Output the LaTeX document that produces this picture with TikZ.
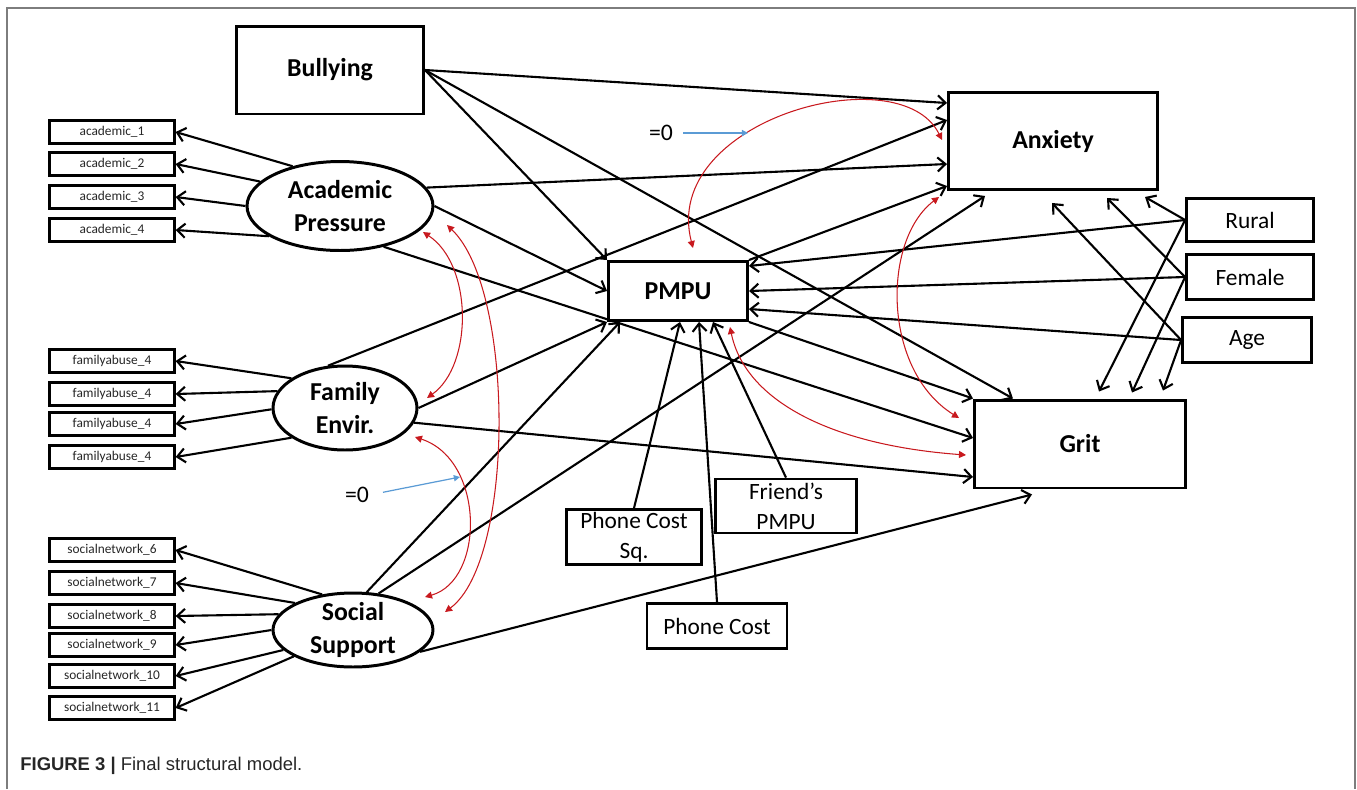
\documentclass[tikz,border=0pt]{standalone}
\usepackage{fontspec}
\setmainfont{Carlito}
\newfontfamily\capfont{Liberation Sans}
\usetikzlibrary{arrows.meta,shapes.geometric}
\definecolor{covred}{RGB}{200,25,30}
\definecolor{fixblue}{RGB}{91,155,213}
\definecolor{framegray}{RGB}{125,125,125}
\tikzset{
  latent/.style={ellipse, draw, line width=1.7pt, inner sep=-2pt, align=center,
    font=\fontsize{14.7}{18.7}\selectfont\bfseries},
  observed/.style={draw, line width=1.7pt, inner sep=0pt,
    font=\fontsize{14.7}{18}\selectfont\bfseries},
  covariate/.style={draw, line width=1.6pt, inner sep=0pt, align=center,
    font=\fontsize{13.3}{17}\selectfont},
  indicator/.style={draw, line width=1.3pt, inner sep=0pt, minimum width=2.5cm,
    minimum height=0.46cm, text=black!85, font=\fontsize{7.6}{9}\selectfont},
  effect/.style={-{Straight Barb[length=4.5pt,width=8pt]}, line width=1.2pt},
  covar/.style={{Triangle[length=4pt,width=4pt]}-{Triangle[length=4pt,width=4pt]},
    covred, line width=0.6pt},
  fixzero/.style={-{Triangle[length=3.5pt,width=3.5pt]}, fixblue, line width=0.7pt},
  zerolabel/.style={inner sep=0pt, font=\fontsize{13.5}{16}\selectfont},
}

\begin{document}
\begin{tikzpicture}[x=0.02cm, y=-0.02cm]
        \useasboundingbox (0,0) rectangle (1357,789);

        % Frame and caption
        \draw[framegray, line width=1.1pt] (7,789) -- (7,8) -- (1355,8) -- (1355,789);
        \node[anchor=west, inner sep=0pt, text=black!85, font=\capfont\fontsize{10.5}{12}\selectfont] (caption) at (20,766) {\textbf{FIGURE 3 |} Final structural model.};

        % Define latent factors by coordinates
        \node[latent, minimum width=3.72cm, minimum height=1.78cm] (acad) at (340,206) {Academic\\Pressure};
        \node[latent, minimum width=2.88cm, minimum height=1.68cm] (fam) at (345,408) {Family\\Envir.};
        \node[latent, minimum width=3.2cm, minimum height=1.48cm] (soc) at (353,630) {Social\\Support};

        % Define observed variables
        \node[observed, minimum width=3.74cm, minimum height=1.76cm] (bully) at (330,70) {Bullying};
        \node[observed, minimum width=4.18cm, minimum height=1.94cm] (anx) at (1053,141) {Anxiety};
        \node[observed, minimum width=4.22cm, minimum height=1.76cm] (grit) at (1080,444) {Grit};
        \node[observed, minimum width=2.78cm, minimum height=1.18cm] (pmpu) at (678,291) {PMPU};
        \node[covariate, minimum width=2.54cm, minimum height=0.86cm] (rural) at (1250,220) {Rural};
        \node[covariate, minimum width=2.54cm, minimum height=0.9cm] (female) at (1250,277) {Female};
        \node[covariate, minimum width=2.58cm, minimum height=0.9cm] (age) at (1247,340) {Age};
        \node[covariate, minimum width=2.7cm, minimum height=1.1cm] (costsq) at (634,537) {Phone Cost\\Sq.};
        \node[covariate, minimum width=2.82cm, minimum height=1.08cm] (friend) at (786,506) {Friend’s\\PMPU};
        \node[covariate, minimum width=2.8cm, minimum height=0.9cm] (cost) at (717,626) {Phone Cost};

        % Define indicators
        \node[indicator] (a1) at (112,132) {academic\_1};
        \node[indicator] (a2) at (112,164) {academic\_2};
        \node[indicator] (a3) at (112,197) {academic\_3};
        \node[indicator] (a4) at (112,230) {academic\_4};
        \node[indicator] (f1) at (112,361) {familyabuse\_4};
        \node[indicator] (f2) at (112,394) {familyabuse\_4};
        \node[indicator] (f3) at (112,424) {familyabuse\_4};
        \node[indicator] (f4) at (112,457) {familyabuse\_4};
        \node[indicator] (s6) at (112,550) {socialnetwork\_6};
        \node[indicator] (s7) at (112,583) {socialnetwork\_7};
        \node[indicator] (s8) at (112,616) {socialnetwork\_8};
        \node[indicator] (s9) at (112,645) {socialnetwork\_9};
        \node[indicator] (s10) at (112,676) {socialnetwork\_10};
        \node[indicator] (s11) at (112,708) {socialnetwork\_11};

        % Fixed-to-zero markers
        \node[zerolabel] (zeroA) at (661,133) {=0};
        \node[zerolabel] (zeroB) at (357,495) {=0};
        \coordinate (fixA) at (748,133);
        \coordinate (fixB) at (460,477);

        % Draw loadings
        \draw[effect] (acad.140) -- (a1.east);
        \draw[effect] (acad.163) -- (a2.east);
        \draw[effect] (acad.180) -- (a3.east);
        \draw[effect] (acad.203) -- (a4.east);
        \draw[effect] (fam.151) -- (f1.east);
        \draw[effect] (fam.166) -- (f2.east);
        \draw[effect] (fam.181) -- (f3.east);
        \draw[effect] (fam.209) -- (f4.east);
        \draw[effect] (soc.131) -- (s6.east);
        \draw[effect] (soc.155) -- (s7.east);
        \draw[effect] (soc.168) -- (s8.east);
        \draw[effect] (soc.180) -- (s9.east);
        \draw[effect] (soc.196) -- (s10.east);
        \draw[effect] (soc.204) -- (s11.east);

        % Draw structural paths
        \draw[effect] (bully.east) -- ([shift={(0,-38)}]anx.west);
        \draw[effect] (bully.east) -- (pmpu.north west);
        \draw[effect] (bully.east) -- ([shift={(-67,0)}]grit.north);
        \draw[effect] (acad.12) -- ([shift={(0,23)}]anx.west);
        \draw[effect] (acad.east) -- (pmpu.west);
        \draw[effect] (acad.-43) -- ([shift={(0,-6)}]grit.west);
        \draw[effect] (fam.112) -- ([shift={(0,-21)}]anx.west);
        \draw[effect] (fam.east) -- (pmpu.south west);
        \draw[effect] (fam.-12) -- ([shift={(0,33)}]grit.west);
        \draw[effect] (soc.70) -- ([shift={(13,0)}]pmpu.south west);
        \draw[effect] (soc.55) -- ([shift={(-68,5)}]anx.south);
        \draw[effect] (soc.-18) -- ([shift={(-48,5)}]grit.south);
        \draw[effect] (pmpu.north east) -- ([shift={(0,45)}]anx.west);
        \draw[effect] (pmpu.south east) -- (grit.north west);
        \draw[effect] (costsq.north) -- ([shift={(2,0)}]pmpu.south);
        \draw[effect] (cost.north) -- ([shift={(21,0)}]pmpu.south);
        \draw[effect] (friend.north) -- ([shift={(35,0)}]pmpu.south);
        \draw[effect] (rural.west) -- ([shift={(0,-25)}]pmpu.east);
        \draw[effect] (female.west) -- (pmpu.east);
        \draw[effect] (age.west) -- ([shift={(0,18)}]pmpu.east);
        \draw[effect] (rural.west) -- ([shift={(92,6)}]anx.south);
        \draw[effect] (female.west) -- ([shift={(54,7)}]anx.south);
        \draw[effect] (age.west) -- ([shift={(-1,12)}]anx.south);
        \draw[effect] (rural.west) -- ([shift={(19,-7)}]grit.north);
        \draw[effect] (female.west) -- ([shift={(52,-6)}]grit.north);
        \draw[effect] (age.west) -- ([shift={(83,-8)}]grit.north);

        % Draw covariances
        \draw[covar] ([shift={(83,26)}]acad.center) .. controls (473,265) and (473,365) .. ([shift={(82,-10)}]fam.center);
        \draw[covar] ([shift={(107,19)}]acad.center) .. controls (515,290) and (515,560) .. ([shift={(92,-18)}]soc.center);
        \draw[covar] ([shift={(70,29)}]fam.center) .. controls (485,460) and (485,580) .. ([shift={(72,-33)}]soc.center);
        \draw[covar] ([shift={(15,-12)}]pmpu.north) .. controls (660,120) and (900,55) .. ([shift={(-5,-1)}]anx.west);
        \draw[covar] ([shift={(-8,6)}]anx.south west) .. controls (882,240) and (882,370) .. ([shift={(-14,-26)}]grit.west);
        \draw[covar] ([shift={(52,5)}]pmpu.south) .. controls (745,400) and (830,445) .. ([shift={(-7,11)}]grit.west);

        % Draw zero constraints
        \draw[fixzero, shorten <=0.2cm] (zeroA.east) -- (fixA);
        \draw[fixzero, shorten <=0.28cm] (zeroB.east) -- (fixB);

\end{tikzpicture}
\end{document}
